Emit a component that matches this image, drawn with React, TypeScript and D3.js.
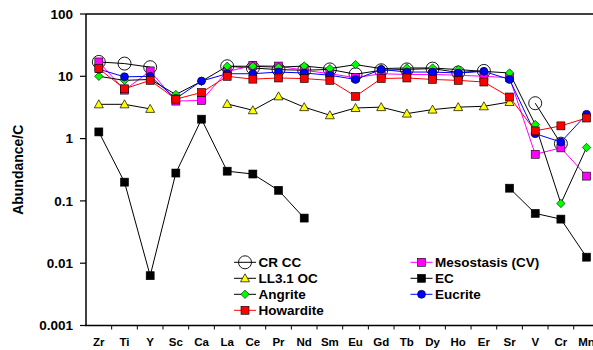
import React from "react";
import * as d3 from "d3";

// elements along the x axis
const elements = ["Zr", "Ti", "Y", "Sc", "Ca", "La", "Ce", "Pr", "Nd", "Sm", "Eu", "Gd", "Tb", "Dy", "Ho", "Er", "Sr", "V", "Cr", "Mn"];

// abundance / C, null = no data
const crcc = [17, 16, 14, null, null, 14.5, 13.6, 12.8, 12.5, 12.9, 10.8, 12.5, 12.9, 13.3, 11.5, 12.2, null, 3.7, 0.83, null];
const mesostasis = [17, 6.0, 12.2, 4.0, 4.1, 12, 14.8, 14.6, 12.5, 11, 9.5, 11, 10.7, 10.7, 10.4, 10, 9.5, 0.56, 0.71, 0.25];
const ll31 = [3.55, 3.55, 3.0, null, null, 3.6, 2.85, 4.77, 3.2, 2.37, 3.1, 3.2, 2.52, 2.92, 3.2, 3.3, 3.87, null, null, null];
const ec = [1.28, 0.2, 0.0063, 0.28, 2.05, 0.3, 0.27, 0.148, 0.053, null, null, null, null, null, null, null, 0.16, 0.063, 0.051, 0.0125];
const angrite = [10, 8.6, 8.9, 5.1, 8.3, 14.5, 14.5, 14, 14.6, 13.3, 15.4, 13.3, 13.6, 13.6, 12.8, 12, 11.3, 1.68, 0.091, 0.72];
const eucrite = [13, 9.8, 10, 4.4, 8.4, 11, 11, 11.7, 11.3, 10.4, 8.9, 12.9, 11.7, 11.7, 11.3, 12, 8.9, 1.2, 0.88, 2.45];
const howardite = [13.3, 6.3, 8.6, 4.3, 5.5, 10, 9.0, 9.4, 9.2, 8.6, 4.77, 9.2, 9.4, 8.9, 8.6, 8.1, 4.65, 1.33, 1.6, 2.14];

const yTicks = [0.001, 0.01, 0.1, 1, 10, 100];
const yTickLabels = ["0.001", "0.01", "0.1", "1", "10", "100"];

type Series = { name: string; values: (number | null)[]; line: string; marker: string; fill: string };

const series: Series[] = [
  { name: "CR CC", values: crcc, line: "#000", marker: "bigCircle", fill: "none" },
  { name: "Mesostasis (CV)", values: mesostasis, line: "#ff00ff", marker: "square", fill: "#ff00ff" },
  { name: "LL3.1 OC", values: ll31, line: "#000", marker: "triangle", fill: "#ffff00" },
  { name: "EC", values: ec, line: "#000", marker: "square", fill: "#000" },
  { name: "Angrite", values: angrite, line: "#000", marker: "diamond", fill: "#00ff00" },
  { name: "Eucrite", values: eucrite, line: "#0000ff", marker: "circle", fill: "#0000ff" },
  { name: "Howardite", values: howardite, line: "#ff0000", marker: "square", fill: "#ff0000" },
];

const legendLeft = ["CR CC", "LL3.1 OC", "Angrite", "Howardite"];
const legendRight = ["Mesostasis (CV)", "EC", "Eucrite"];

const W = 593;
const H = 350;
const left = 86;
const top = 14;
const bottom = 325.5;
const step = 25.67;
const font = "'Liberation Sans', Arial, sans-serif";

const x = d3
  .scaleBand<string>()
  .domain(elements)
  .range([left, left + step * elements.length]);
const y = d3.scaleLog().domain([0.001, 100]).range([bottom, top]);

function Marker({ type, fill, cx, cy }: { type: string; fill: string; cx: number; cy: number }) {
  if (type === "bigCircle") return <circle cx={cx} cy={cy} r={6.5} fill="none" stroke="#000" strokeWidth={0.9} />;
  if (type === "circle") return <circle cx={cx} cy={cy} r={4} fill={fill} stroke="#000" strokeWidth={0.6} />;
  if (type === "square") return <rect x={cx - 4} y={cy - 4} width={8} height={8} fill={fill} stroke="#000" strokeWidth={0.6} />;
  if (type === "triangle")
    return <path d={`M${cx},${cy - 4.5}L${cx + 4.5},${cy + 3.5}L${cx - 4.5},${cy + 3.5}Z`} fill={fill} stroke="#000" strokeWidth={0.7} />;
  return <path d={`M${cx},${cy - 4.2}L${cx + 4.2},${cy}L${cx},${cy + 4.2}L${cx - 4.2},${cy}Z`} fill={fill} stroke="#000" strokeWidth={0.6} />;
}

export default function App() {
  const cx = (i: number) => (x(elements[i]) as number) + x.bandwidth() / 2;
  const line = d3
    .line<number | null>()
    .defined((d) => d != null)
    .x((_, i) => cx(i))
    .y((d) => y(d as number));

  const legendItem = (name: string, lx: number, ly: number) => {
    const s = series.find((d) => d.name === name)!;
    return (
      <g key={name}>
        <line x1={lx} x2={lx + 22} y1={ly} y2={ly} stroke={s.line} strokeWidth={1} />
        <Marker type={s.marker} fill={s.fill} cx={lx + 11} cy={ly} />
        <text x={lx + 24.5} y={ly + 4.8} fontSize={13.5} fontWeight="bold" fontFamily={font}>
          {name}
        </text>
      </g>
    );
  };

  return (
    <svg width={W} height={H} style={{ position: "absolute", left: 0, top: 0, background: "#fff" }}>
      {/* frame */}
      <line x1={left} x2={W} y1={top} y2={top} stroke="#000" strokeWidth={1.5} />
      <line x1={left} x2={left} y1={top} y2={bottom} stroke="#000" strokeWidth={1.5} />
      <line x1={left - 1} x2={W} y1={bottom} y2={bottom} stroke="#000" strokeWidth={1.5} />

      {yTicks.map((t, i) => (
        <g key={t}>
          <line x1={left - 6} x2={left} y1={y(t)} y2={y(t)} stroke="#000" strokeWidth={1.2} />
          <text x={73} y={y(t) + 4.8} textAnchor="end" fontSize={13.5} fontWeight="bold" fontFamily={font}>
            {yTickLabels[i]}
          </text>
        </g>
      ))}

      {elements.map((e, i) => (
        <g key={e}>
          <line x1={x(e)! + step} x2={x(e)! + step} y1={bottom} y2={bottom + 4} stroke="#000" strokeWidth={1} />
          <text x={cx(i)} y={346} textAnchor="middle" fontSize={11.5} fontWeight="bold" fontFamily={font}>
            {e}
          </text>
        </g>
      ))}

      <text
        transform={`translate(23,${(top + bottom) / 2}) rotate(-90)`}
        textAnchor="middle"
        fontSize={14}
        fontWeight="bold"
        fontFamily={font}
      >
        Abundance/C
      </text>

      {series.map((s) => (
        <g key={s.name}>
          <path d={line(s.values) || ""} fill="none" stroke={s.line} strokeWidth={1} />
          {s.values.map((v, i) =>
            v == null ? null : <Marker key={i} type={s.marker} fill={s.fill} cx={cx(i)} cy={y(v)} />
          )}
        </g>
      ))}

      {legendLeft.map((n, i) => legendItem(n, 234, 262.3 + i * 16))}
      {legendRight.map((n, i) => legendItem(n, 410.5, 262.3 + i * 16))}
    </svg>
  );
}
